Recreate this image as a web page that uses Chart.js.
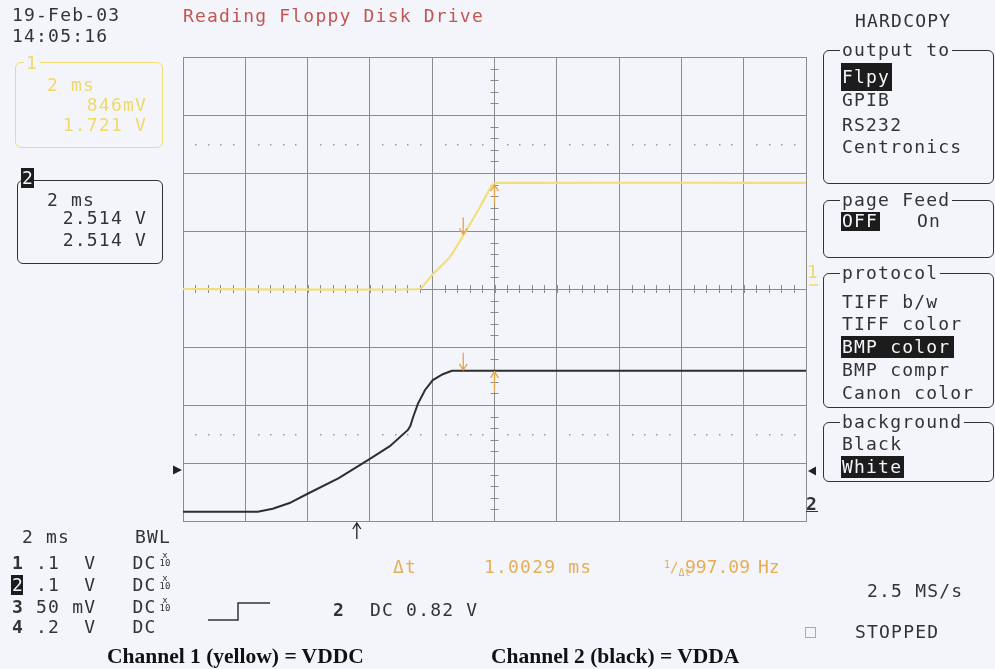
<!DOCTYPE html>
<html>
<head>
<meta charset="utf-8">
<script src="https://cdn.jsdelivr.net/npm/chart.js@4.4.1/dist/chart.umd.min.js"></script>
<style>
  body { margin: 0; background: #f3f5fa; }
  #wrap { position: relative; width: 995px; height: 669px; overflow: hidden;
          font-family: 'DejaVu Sans Mono', monospace; font-size: 18px; letter-spacing: 1.2px; color: #333; }
  #wrap canvas { position: absolute; left: 0; top: 0; }
  .t { position: absolute; white-space: pre; line-height: 18px; }
  .box { position: absolute; border: 1.5px solid #333; border-radius: 6px; }
  .ttl { position: absolute; background: #f3f5fa; white-space: pre; line-height: 18px; padding: 0 2px; }
  .hl { position: absolute; background: #1c1c1c; }
  .inv { color: #f3f5fa; }
  .yel { color: #efd96a; }
  .org { color: #e6ae55; }
  .b { font-weight: bold; }
  .x10 { position: absolute; font-size: 9px; line-height: 8px; letter-spacing: 0; text-align: center; width: 12px; }
  .cap { position: absolute; font-family: 'Liberation Serif', serif; font-weight: bold; font-size: 21.5px; line-height: 22px; letter-spacing: 0; color: #111; white-space: pre; }
</style>
</head>
<body>
<div id="wrap">
  <canvas id="scope" width="995" height="669"></canvas>

  <div class="t" style="left:12px;top:6px">19-Feb-03</div>
  <div class="t" style="left:12px;top:27px">14:05:16</div>
  <div class="t" style="left:183px;top:7px;color:#c45550">Reading Floppy Disk Drive</div>

  <!-- channel 1 readout -->
  <div class="box" style="left:15px;top:62px;width:146px;height:84px;border-color:#f0dc70"></div>
  <div class="ttl yel" style="left:24px;top:54px;background:#f3f5fa">1</div>
  <div class="t yel" style="left:47px;top:76px">2 ms</div>
  <div class="t yel" style="right:848px;top:96px">846mV</div>
  <div class="t yel" style="right:848px;top:116px">1.721 V</div>

  <!-- channel 2 readout -->
  <div class="box" style="left:17px;top:180px;width:144px;height:82px"></div>
  <div class="hl" style="left:21px;top:168px;width:13px;height:20px"></div>
  <div class="t inv" style="left:22px;top:169px">2</div>
  <div class="t" style="left:47px;top:191px">2 ms</div>
  <div class="t" style="right:848px;top:209px">2.514 V</div>
  <div class="t" style="right:848px;top:231px">2.514 V</div>

  <!-- hardcopy menu -->
  <div class="t" style="left:855px;top:12px">HARDCOPY</div>

  <div class="box" style="left:823px;top:50px;width:169px;height:132px"></div>
  <div class="ttl" style="left:840px;top:41px">output to</div>
  <div class="hl" style="left:841px;top:63px;width:51px;height:28px"></div>
  <div class="t inv" style="left:842px;top:68px">Flpy</div>
  <div class="t" style="left:842px;top:91px">GPIB</div>
  <div class="t" style="left:842px;top:116px">RS232</div>
  <div class="t" style="left:842px;top:138px">Centronics</div>

  <div class="box" style="left:823px;top:200px;width:169px;height:56px"></div>
  <div class="ttl" style="left:840px;top:191px">page Feed</div>
  <div class="hl" style="left:841px;top:212px;width:39px;height:19px"></div>
  <div class="t inv" style="left:842px;top:212px">OFF</div>
  <div class="t" style="left:917px;top:212px">On</div>

  <div class="box" style="left:823px;top:273px;width:169px;height:133px"></div>
  <div class="ttl" style="left:840px;top:264px">protocol</div>
  <div class="t" style="left:842px;top:293px">TIFF b/w</div>
  <div class="t" style="left:842px;top:315px">TIFF color</div>
  <div class="hl" style="left:841px;top:336px;width:113px;height:22px"></div>
  <div class="t inv" style="left:842px;top:338px">BMP color</div>
  <div class="t" style="left:842px;top:361px">BMP compr</div>
  <div class="t" style="left:842px;top:384px">Canon color</div>

  <div class="box" style="left:823px;top:422px;width:169px;height:58px"></div>
  <div class="ttl" style="left:840px;top:413px">background</div>
  <div class="t" style="left:842px;top:435px">Black</div>
  <div class="hl" style="left:841px;top:456px;width:63px;height:22px"></div>
  <div class="t inv" style="left:842px;top:458px">White</div>

  <!-- trace markers on the right edge -->
  <div class="t yel" style="left:807px;top:263px">1</div>
  <div class="t b" style="left:806px;top:495px;text-decoration:underline">2</div>

  <!-- bottom status -->
  <div class="t" style="left:22px;top:528px">2 ms</div>
  <div class="t" style="left:135px;top:528px">BWL</div>
  <div class="t" style="left:12px;top:554px"><span class="b">1</span> .1  V   DC</div>
  <div class="x10" style="left:159px;top:551px">x<br>10</div>
  <div class="hl" style="left:11px;top:575px;width:12px;height:20px"></div>
  <div class="t" style="left:12px;top:576px"><span class="inv">2</span> .1  V   DC</div>
  <div class="x10" style="left:159px;top:574px">x<br>10</div>
  <div class="t" style="left:12px;top:598px"><span class="b">3</span> 50 mV   DC</div>
  <div class="x10" style="left:159px;top:596px">x<br>10</div>
  <div class="t" style="left:12px;top:618px"><span class="b">4</span> .2  V   DC</div>

  <svg style="position:absolute;left:0;top:0" width="995" height="669">
    <polyline points="208,620 238,620 238,603 270,603" fill="none" stroke="#333" stroke-width="1.5"/>
    <rect x="805.5" y="627.5" width="10" height="10" fill="none" stroke="#aaa" stroke-width="1"/>
  </svg>

  <div class="t b" style="left:333px;top:601px">2</div>
  <div class="t" style="left:370px;top:601px">DC 0.82 V</div>

  <div class="t org" style="left:393px;top:558px">Δt</div>
  <div class="t org" style="left:484px;top:558px">1.0029 ms</div>
  <div class="t org" style="left:664px;top:558px;font-size:10px;letter-spacing:0"><span style="position:relative;top:-4px">1</span><span style="font-size:14px">/</span><span style="position:relative;top:4px">Δt</span></div>
  <div class="t org" style="left:685px;top:558px;letter-spacing:0">997.09</div>
  <div class="t org" style="left:758px;top:558px;letter-spacing:0">Hz</div>

  <div class="t" style="left:867px;top:582px">2.5 MS/s</div>
  <div class="t" style="left:855px;top:623px">STOPPED</div>

  <div class="cap" style="left:107px;top:645px">Channel 1 (yellow) = VDDC</div>
  <div class="cap" style="left:491px;top:645px">Channel 2 (black) = VDDA</div>
</div>

<script>
// time axis in ms (2 ms/div), vertical axis in divisions
const timeLimits = [-10, 10];
const divLimits = [-4, 4];

// channel 1 (yellow) = VDDC
const ch1Time = [-10, -2.40, -2.01, -1.43, -0.95, -0.47, -0.08, 0.08, 10];
const ch1Div  = [0, 0, 0.24, 0.55, 0.97, 1.41, 1.79, 1.83, 1.83];

// channel 2 (black) = VDDA
const ch2Time = [-10, -7.60, -7.12, -6.58, -6.00, -5.00, -4.00, -3.36, -2.78, -2.70, -2.62, -2.46, -2.23, -1.98, -1.66, -1.37, 10];
const ch2Div  = [-3.84, -3.84, -3.79, -3.69, -3.53, -3.26, -2.93, -2.71, -2.43, -2.36, -2.22, -1.98, -1.74, -1.57, -1.47, -1.41, -1.41];

// cursors (delta t = 1.0029 ms), trigger position and level
const cursorTimes = [-1.0029, 0];
const triggerTime = -4.42;
const triggerLevel = -3.12;
const dottedLevels = [-2.5, 2.5];

const gridColor = '#8c8c8c';
const cursorColor = '#e6a645';

function toPoints(xs, ys) {
    return xs.map((x, i) => ({ x: x, y: ys[i] }));
}

function valueAt(xs, ys, t) {
    for (let i = 1; i < xs.length; i++) {
        if (t <= xs[i]) {
            const f = (t - xs[i - 1]) / (xs[i] - xs[i - 1]);
            return ys[i - 1] + f * (ys[i] - ys[i - 1]);
        }
    }
    return ys[ys.length - 1];
}

function arrow(ctx, x, yTip, len, dir) {
    // dir = 1 points down, -1 points up
    ctx.beginPath();
    ctx.moveTo(x, yTip - dir * len);
    ctx.lineTo(x, yTip);
    ctx.moveTo(x - 4, yTip - dir * 6);
    ctx.lineTo(x, yTip);
    ctx.lineTo(x + 4, yTip - dir * 6);
    ctx.stroke();
}

const scopeDecor = {
    id: 'scopeDecor',
    beforeDatasetsDraw(chart) {
        const ctx = chart.ctx;
        const xs = chart.scales.x, ys = chart.scales.y;
        const cx = xs.getPixelForValue(0), cy = ys.getPixelForValue(0);
        ctx.save();
        ctx.strokeStyle = gridColor;
        ctx.lineWidth = 1;
        ctx.beginPath();
        for (let t = timeLimits[0]; t <= timeLimits[1] + 1e-9; t += 0.4) {
            const px = Math.round(xs.getPixelForValue(t)) + 0.5;
            ctx.moveTo(px, cy - 4);
            ctx.lineTo(px, cy + 4);
        }
        for (let d = divLimits[0]; d <= divLimits[1] + 1e-9; d += 0.2) {
            const py = Math.round(ys.getPixelForValue(d)) + 0.5;
            ctx.moveTo(cx - 4, py);
            ctx.lineTo(cx + 4, py);
        }
        ctx.stroke();
        // dotted reference lines
        ctx.fillStyle = '#9a9a9a';
        dottedLevels.forEach(lv => {
            const py = Math.round(ys.getPixelForValue(lv));
            for (let t = timeLimits[0] + 0.4; t < timeLimits[1]; t += 0.4) {
                if (Math.abs(t / 2 - Math.round(t / 2)) < 0.01) continue;
                ctx.fillRect(Math.round(xs.getPixelForValue(t)), py, 1.5, 1.5);
            }
        });
        ctx.restore();
    },
    afterDatasetsDraw(chart) {
        const ctx = chart.ctx;
        const xs = chart.scales.x, ys = chart.scales.y;
        const area = chart.chartArea;
        ctx.save();
        // cursor arrows on both traces
        ctx.strokeStyle = cursorColor;
        ctx.lineWidth = 1.3;
        [[ch1Time, ch1Div], [ch2Time, ch2Div]].forEach(([tx, ty]) => {
            const x1 = xs.getPixelForValue(cursorTimes[0]);
            const y1 = ys.getPixelForValue(valueAt(tx, ty, cursorTimes[0]));
            arrow(ctx, x1, y1 - 1, 17, 1);
            const x2 = xs.getPixelForValue(cursorTimes[1]);
            const y2 = ys.getPixelForValue(valueAt(tx, ty, cursorTimes[1]));
            arrow(ctx, x2, y2 + 1, 20, -1);
        });
        // trigger position arrow below the grid
        ctx.strokeStyle = '#222';
        ctx.lineWidth = 1.3;
        arrow(ctx, xs.getPixelForValue(triggerTime), area.bottom + 2, 16, -1);
        // trigger level triangles
        const ty = ys.getPixelForValue(triggerLevel);
        ctx.fillStyle = '#222';
        ctx.beginPath();
        ctx.moveTo(area.left - 1, ty);
        ctx.lineTo(area.left - 10, ty - 4.5);
        ctx.lineTo(area.left - 10, ty + 4.5);
        ctx.fill();
        ctx.beginPath();
        ctx.moveTo(area.right + 2, ty + 1);
        ctx.lineTo(area.right + 10, ty - 3.5);
        ctx.lineTo(area.right + 10, ty + 5.5);
        ctx.fill();
        // channel 1 ground mark
        ctx.strokeStyle = '#efd96a';
        ctx.lineWidth = 1.5;
        ctx.beginPath();
        ctx.moveTo(area.right + 3, ys.getPixelForValue(0) - 4);
        ctx.lineTo(area.right + 12, ys.getPixelForValue(0) - 4);
        ctx.stroke();
        ctx.restore();
    }
};

new Chart(document.getElementById('scope'), {
    type: 'line',
    data: {
        datasets: [{
            label: 'Channel 1 (yellow) = VDDC',
            data: toPoints(ch1Time, ch1Div),
            borderColor: '#f2df7c',
            borderWidth: 2.2,
            pointRadius: 0,
            tension: 0.1
        }, {
            label: 'Channel 2 (black) = VDDA',
            data: toPoints(ch2Time, ch2Div),
            borderColor: '#2e2e2e',
            borderWidth: 2,
            pointRadius: 0,
            tension: 0
        }]
    },
    options: {
        responsive: false,
        animation: false,
        events: [],
        layout: { padding: { left: 183, right: 189, top: 57, bottom: 148 } },
        plugins: { legend: { display: false }, tooltip: { enabled: false } },
        scales: {
            x: {
                type: 'linear',
                min: timeLimits[0], max: timeLimits[1],
                ticks: { display: false, stepSize: 2 },
                grid: { color: gridColor, lineWidth: 1, drawTicks: false },
                border: { color: gridColor }
            },
            y: {
                min: divLimits[0], max: divLimits[1],
                ticks: { display: false, stepSize: 1 },
                grid: { color: gridColor, lineWidth: 1, drawTicks: false },
                border: { color: gridColor }
            }
        }
    },
    plugins: [scopeDecor]
});
</script>
</body>
</html>
